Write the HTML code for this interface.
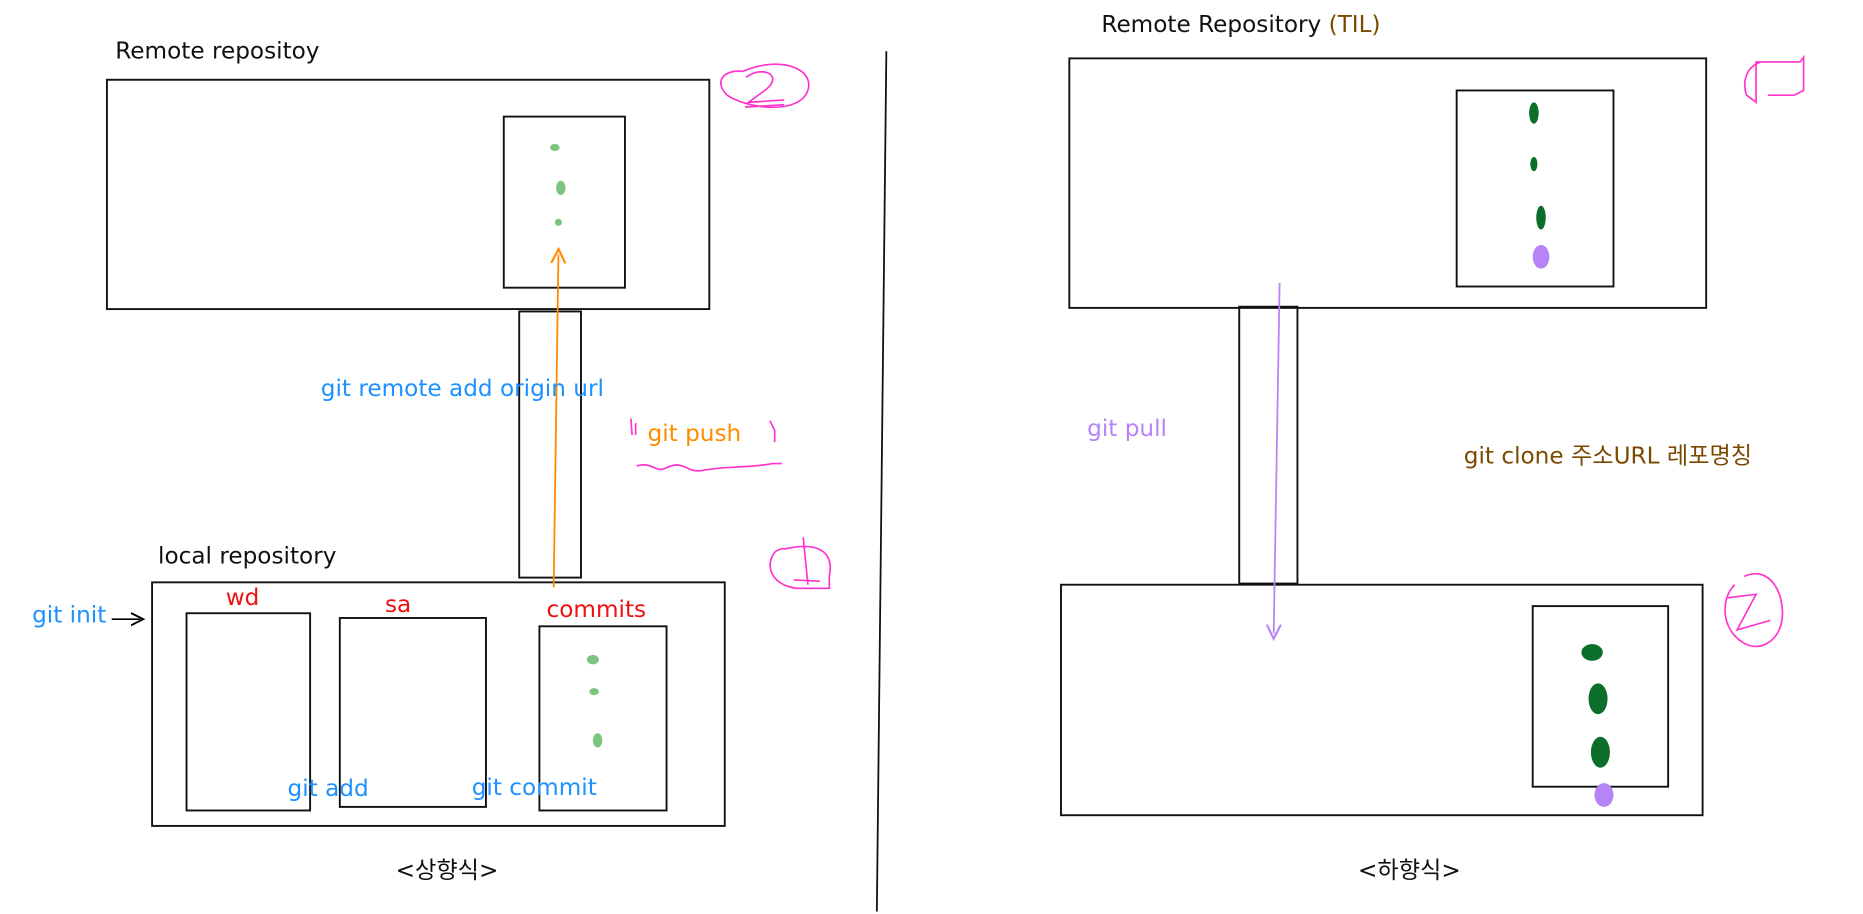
<!DOCTYPE html>
<html><head><meta charset="utf-8"><style>
html,body{margin:0;padding:0;background:#fff;}
svg{display:block;}
text{font-family:"DejaVu Sans","Liberation Sans","Noto Sans CJK KR",sans-serif;font-size:19.5px;}
</style></head><body>
<svg width="1863" height="914" viewBox="0 0 1568 769">
<defs>
<marker id="ao" markerWidth="10" markerHeight="10" refX="5" refY="5" orient="auto"><path d="M0,1 L8,5 L0,9" fill="none" stroke="#ff8c00" stroke-width="1.2"/></marker>
<marker id="ap" markerWidth="10" markerHeight="10" refX="5" refY="5" orient="auto"><path d="M0,1 L8,5 L0,9" fill="none" stroke="#b784f7" stroke-width="1.2"/></marker>
<marker id="ab" markerWidth="10" markerHeight="10" refX="6" refY="5" orient="auto"><path d="M0,1 L8,5 L0,9" fill="none" stroke="#000" stroke-width="1.2"/></marker>
</defs>
<g fill="none" stroke="#111" stroke-width="1.6">
<rect x="90" y="67" width="507" height="193"/>
<rect x="424" y="98" width="102" height="144"/>
<rect x="437" y="262" width="52" height="224"/>
<rect x="128" y="490" width="482" height="205"/>
<rect x="157" y="516" width="104" height="166"/>
<rect x="286" y="520" width="123" height="159"/>
<rect x="454" y="527" width="107" height="155"/>
<rect x="900" y="49" width="536" height="210"/>
<rect x="1226" y="76" width="132" height="165"/>
<rect x="1043" y="258" width="49" height="233"/>
<rect x="893" y="492" width="540" height="194"/>
<rect x="1290" y="510" width="114" height="152"/>
</g>
<line x1="746" y1="43" x2="738" y2="767" stroke="#111" stroke-width="1.5"/>
<g fill="#7cc47f">
<ellipse cx="467" cy="124" rx="4" ry="3"/><ellipse cx="472" cy="158" rx="4" ry="6"/><ellipse cx="470" cy="187" rx="3" ry="3"/>
<ellipse cx="499" cy="555" rx="5" ry="4"/><ellipse cx="500" cy="582" rx="4" ry="3"/><ellipse cx="503" cy="623" rx="4" ry="6"/>
</g>
<g fill="#0b6e2a">
<ellipse cx="1291" cy="95" rx="4" ry="9"/><ellipse cx="1291" cy="138" rx="3" ry="6"/><ellipse cx="1297" cy="183" rx="4" ry="10"/>
<ellipse cx="1340" cy="549" rx="9" ry="7"/><ellipse cx="1345" cy="588" rx="8" ry="13"/><ellipse cx="1347" cy="633" rx="8" ry="13"/>
</g>
<g fill="#b784f7"><ellipse cx="1297" cy="216" rx="7" ry="10"/><ellipse cx="1350" cy="669" rx="8" ry="10"/></g>
<line x1="466" y1="494" x2="470" y2="214" stroke="#ff8c00" stroke-width="1.5" marker-end="url(#ao)"/>
<line x1="1077" y1="238" x2="1072" y2="533" stroke="#b784f7" stroke-width="1.5" marker-end="url(#ap)"/>
<line x1="94" y1="521" x2="118" y2="521" stroke="#000" stroke-width="1.3" marker-end="url(#ab)"/>
<g fill="none" stroke="#ff33cc" stroke-width="1.4">
<path d="M625,60 C660,45 690,60 678,80 C668,95 630,92 612,80 C600,68 610,58 625,60 M628,65 C640,55 660,62 645,75 L630,86 L660,84 M627,90 L660,88"/>
<path d="M660,462 C690,455 702,465 698,485 L698,495 L670,495 C650,492 645,478 650,468 C652,462 660,461 662,462 M676,452 L680,492 M668,488 L690,489"/>
<path d="M536,392 C548,388 552,398 560,394 C575,386 578,398 590,396 C610,392 630,394 650,390 L658,390 M531,352 L532,366 M535,356 L535,366 M648,354 L652,362 L652,372"/>
<path d="M1482,52 C1470,56 1466,68 1470,80 L1478,86 L1478,52 L1515,52 L1518,48 L1518,76 L1510,80 L1488,80"/>
<path d="M1468,485 C1490,475 1502,500 1500,520 C1498,540 1480,550 1466,540 C1450,530 1447,505 1460,492 M1454,503 L1478,500 L1462,530 L1490,522"/>
</g>
<text x="97" y="49" fill="#111">Remote repositoy</text>
<text x="133" y="474" fill="#111">local repository</text>
<text x="270" y="333" fill="#1e90ff">git remote add origin url</text>
<text x="545" y="371" fill="#ff8c00">git push</text>
<text x="190" y="509" fill="#f01010">wd</text>
<text x="324" y="515" fill="#f01010">sa</text>
<text x="460" y="519" fill="#f01010">commits</text>
<text x="242" y="670" fill="#1e90ff">git add</text>
<text x="397" y="669" fill="#1e90ff">git commit</text>
<text x="27" y="524" fill="#1e90ff">git init</text>
<text x="333" y="739" fill="#111">&lt;상향식&gt;</text>
<text x="927" y="27" fill="#111">Remote Repository <tspan fill="#7a4a00">(TIL)</tspan></text>
<text x="915" y="367" fill="#b784f7">git pull</text>
<text x="1232" y="390" fill="#7a4a00">git clone 주소URL 레포명칭</text>
<text x="1143" y="739" fill="#111">&lt;하향식&gt;</text>
</svg>
</body></html>
